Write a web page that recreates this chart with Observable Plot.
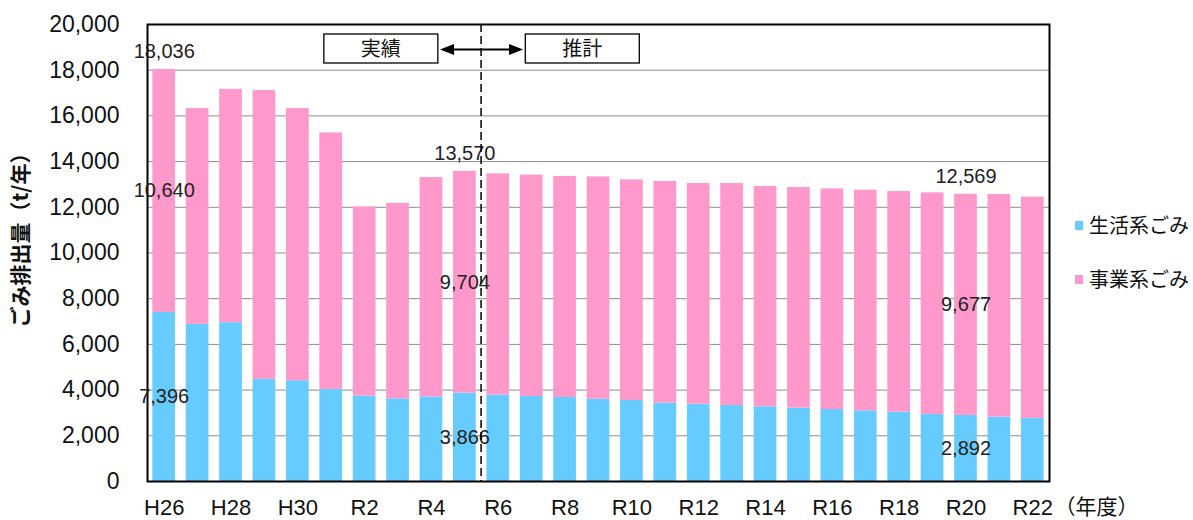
<!DOCTYPE html>
<html><head><meta charset="utf-8">
<script src="https://cdn.jsdelivr.net/npm/d3@7"></script>
<script src="https://cdn.jsdelivr.net/npm/@observablehq/plot@0.6"></script>
<style>
body{margin:0;background:#fff;}
#wrap{position:relative;width:1193px;height:520px;}
.legend{position:absolute;left:1075px;height:24px;font-family:"Noto Sans CJK JP",sans-serif;font-size:20px;line-height:24px;color:#111;display:flex;align-items:center;white-space:nowrap;}
.sw{width:8px;height:9px;margin-right:6px;flex:none;}
</style></head><body><div id="wrap"></div>
<script>
const years = ["H26","H27","H28","H29","H30","R1","R2","R3","R4","R5","R6","R7","R8","R9","R10","R11","R12","R13","R14","R15","R16","R17","R18","R19","R20","R21","R22"];
const household = [7396,6880,6950,4470,4410,4030,3740,3620,3700,3866,3780,3720,3675,3600,3545,3430,3385,3325,3270,3210,3150,3095,3035,2935,2892,2815,2760];
const business  = [10640,9440,10215,12640,11910,11225,8275,8555,9600,9704,9685,9690,9675,9730,9655,9700,9655,9715,9640,9655,9658,9655,9655,9698,9677,9745,9685];
const seriesNames = ["生活系ごみ","事業系ごみ"];
const seriesColors = ["#66CCFF","#FF99CC"];
const yTicks = d3.range(0, 20001, 2000);
const xTickLabels = ["H26","H28","H30","R2","R4","R6","R8","R10","R12","R14","R16","R18","R20","R22"];
const labeledYears = ["H26","R5","R20"];
const periodLabels = ["実績","推計"];
const firstForecastYear = "R6";
const yTitle = "ごみ排出量（t/年）";
const xUnit = "（年度）";

(function(){
const fmt = d3.format(",");
const rows = [];
years.forEach((y,i)=>{
  rows.push({year:y, type:seriesNames[0], value:household[i]});
  rows.push({year:y, type:seriesNames[1], value:business[i]});
});
const segLabels = [], totalLabels = [];
labeledYears.forEach(y=>{
  const i = years.indexOf(y);
  const h = household[i], b = business[i];
  segLabels.push({year:y, y:h/2, text:fmt(h)});
  segLabels.push({year:y, y:h + b/2, text:fmt(b)});
  totalLabels.push({year:y, y:h + b, text:fmt(h + b)});
});

const numFont = '"Liberation Sans", Arial, "Noto Sans CJK JP", sans-serif';
const cjkFont = '"Noto Sans CJK JP", sans-serif';
const padIn = 0.32, padOut = 0.16;

const chart = Plot.plot({
  width:1193, height:520,
  marginLeft:147, marginRight:144, marginTop:24, marginBottom:39,
  style:{fontFamily:numFont, fontSize:"20px", background:"white", color:"#111"},
  x:{domain:years, paddingInner:padIn, paddingOuter:padOut, round:false, label:null},
  y:{domain:[0,20000], label:null},
  color:{domain:seriesNames, range:seriesColors},
  marks:[
    Plot.gridY(yTicks, {stroke:"#8c8c8c", strokeOpacity:1, strokeWidth:1}),
    Plot.barY(rows, {x:"year", y:"value", fill:"type"}),
    Plot.axisY({ticks:yTicks, tickFormat:fmt, tickSize:0, tickPadding:28, fontSize:23, label:null}),
    Plot.axisX({ticks:xTickLabels, tickSize:0, tickPadding:18, fontSize:22, label:null}),
    Plot.frame({stroke:"black", strokeWidth:2}),
    Plot.text(segLabels, {x:"year", y:"y", text:"text", fontSize:20, fill:"#222"}),
    Plot.text(totalLabels, {x:"year", y:"y", text:"text", dy:-18, fontSize:20, fill:"#222"}),
    Plot.text([yTitle], {frameAnchor:"left", text:d=>d, textAnchor:"middle", lineAnchor:"middle", rotate:-90, dx:-126, dy:-18, fontWeight:"bold", fontSize:21, fontFamily:cjkFont, fill:"#111"}),
    Plot.text([xUnit], {frameAnchor:"bottom-right", text:d=>d, textAnchor:"start", lineAnchor:"middle", dx:5, dy:26, fontSize:21, fontFamily:cjkFont, fill:"#111"})
  ]
});

const xs = chart.scale("x");
const ys = chart.scale("y");
const step = xs.step;
const boundary = xs.apply(firstForecastYear) - step*padIn/2;
const yTop = ys.apply(20000), yBottom = ys.apply(0);
const svg = d3.select(chart);
const g = svg.append("g");
g.append("line").attr("x1",boundary).attr("x2",boundary).attr("y1",yTop).attr("y2",yBottom)
  .attr("stroke","black").attr("stroke-width",1.5).attr("stroke-dasharray","8,4");
const boxY = yTop + 10, boxH = 29, boxW = 114;
[-3, 3].forEach((k,j)=>{
  const cx = boundary + k*step + (j?1:0);
  g.append("rect").attr("x",cx-boxW/2).attr("y",boxY).attr("width",boxW).attr("height",boxH)
    .attr("fill","white").attr("stroke","black").attr("stroke-width",1.3);
  g.append("text").attr("x",cx).attr("y",boxY+boxH/2).attr("dy","0.35em").attr("text-anchor","middle")
    .attr("font-family",cjkFont).attr("font-size",20).attr("fill","#111").text(periodLabels[j]);
});
const ay = boxY + 15.5, ax1 = boundary - 41, ax2 = boundary + 42, hl = 14, hh = 5.5;
g.append("line").attr("x1",ax1+hl-1).attr("x2",ax2-hl+1).attr("y1",ay).attr("y2",ay).attr("stroke","black").attr("stroke-width",2.2);
g.append("path").attr("d",`M${ax1},${ay}L${ax1+hl},${ay-hh}L${ax1+hl},${ay+hh}Z`).attr("fill","black");
g.append("path").attr("d",`M${ax2},${ay}L${ax2-hl},${ay-hh}L${ax2-hl},${ay+hh}Z`).attr("fill","black");

const wrap = document.getElementById("wrap");
wrap.appendChild(chart);
const legendRows = [213, 267];
seriesNames.forEach((n,i)=>{
  const d = document.createElement("div");
  d.className = "legend";
  d.style.top = legendRows[i] + "px";
  d.innerHTML = `<span class="sw" style="background:${seriesColors[i]}"></span><span>${n}</span>`;
  wrap.appendChild(d);
});
})();
</script></body></html>
